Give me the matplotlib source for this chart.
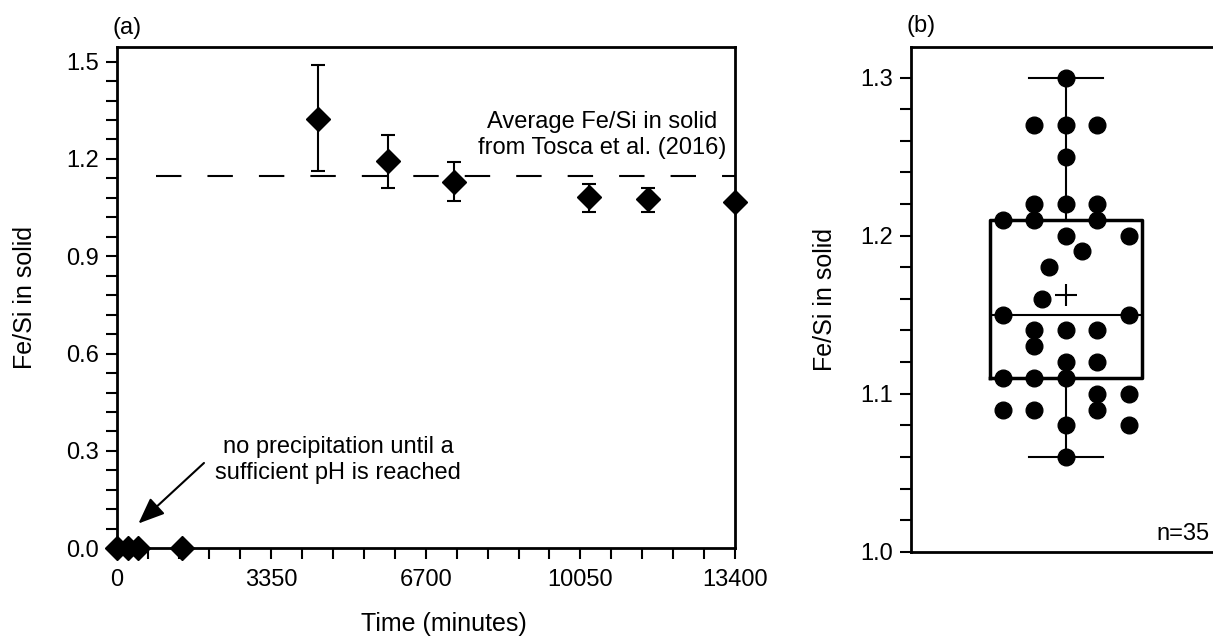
import numpy as np
import matplotlib
matplotlib.use('Agg')
import matplotlib.pyplot as plt
from matplotlib.ticker import MultipleLocator

plt.rcParams['font.family'] = ['Liberation Sans', 'DejaVu Sans']

# (a) Fe/Si i fast stoff mot tid
tid = [0, 250, 470, 1410, 4360, 5890, 7310, 10240, 11520, 13400]
fesi = [0.0, 0.0, 0.0, 0.0, 1.322, 1.195, 1.130, 1.083, 1.075, 1.067]
fesi_lav = [0.0, 0.0, 0.0, 0.0, 1.163, 1.110, 1.071, 1.037, 1.037, 1.067]
fesi_hoy = [0.0, 0.0, 0.0, 0.0, 1.488, 1.275, 1.192, 1.122, 1.111, 1.067]
tosca_snitt = 1.148
tosca_start = 850
xticks_a = [0, 3350, 6700, 10050, 13400]

# (b) fordeling av Fe/Si, n=35
verdier_b = [1.30, 1.27, 1.25, 1.22, 1.21, 1.20, 1.19, 1.18, 1.16, 1.15,
             1.14, 1.13, 1.12, 1.11, 1.10, 1.09, 1.08, 1.06]
antall_b = [1, 3, 1, 3, 3, 2, 1, 1, 1, 2, 3, 1, 2, 3, 2, 3, 2, 1]
# horisontal plassering av punktene (kolonner)
kolonner_b = [[0], [-1, 0, 1], [0], [-1, 0, 1], [-2, -1, 1], [0, 2], [0.5],
              [-0.55], [-0.75], [-2, 2], [-1, 0, 1], [-1], [0, 1], [-2, -1, 0],
              [1, 2], [-2, -1, 1], [0, 2], [0]]

fig = plt.figure(figsize=(12.13, 6.36), dpi=100)

# ---------- (a) ----------
ax = fig.add_axes([0.0962, 0.1379, 0.5097, 0.7877])
t = np.array(tid)
y = np.array(fesi)
yerr = [y - np.array(fesi_lav), np.array(fesi_hoy) - y]
ax.errorbar(t, y, yerr=yerr, fmt='none', ecolor='black', elinewidth=1.5,
            capsize=5, capthick=1.5, zorder=3, clip_on=False)
ax.plot(t, y, 'D', color='black', ms=12.5, zorder=4, clip_on=False)

linje, = ax.plot([tosca_start, xticks_a[-1]], [tosca_snitt, tosca_snitt],
                 color='black', lw=1.5, zorder=2)
linje.set_dashes((12.2, 12.5))

ax.set_xlim(0, 13400)
ax.set_ylim(0, 1.544)
ax.set_xticks(xticks_a)
ax.xaxis.set_minor_locator(MultipleLocator(670))
ax.yaxis.set_major_locator(MultipleLocator(0.3))
ax.yaxis.set_minor_locator(MultipleLocator(0.06))
ax.yaxis.set_major_formatter(matplotlib.ticker.FormatStrFormatter('%.1f'))
ax.tick_params(which='both', direction='out', length=8, width=1.5,
               labelsize=17, top=False, right=False)
ax.tick_params(axis='x', pad=7)
ax.tick_params(axis='y', pad=5)
for s in ax.spines.values():
    s.set_linewidth(2)
ax.set_xlabel('Time (minutes)', fontsize=18)
ax.xaxis.set_label_coords(0.529, -0.128)
ax.set_ylabel('Fe/Si in solid', fontsize=18, labelpad=21)

ax.text(10520, 1.274, 'Average Fe/Si in solid\nfrom Tosca et al. (2016)',
        ha='center', va='center', fontsize=17, linespacing=1.25)
ax.text(4800, 0.272, 'no precipitation until a\nsufficient pH is reached',
        ha='center', va='center', fontsize=17, linespacing=1.25)
ax.annotate('', xy=(472, 0.0765), xytext=(1892, 0.263),
            arrowprops=dict(arrowstyle='-|>,head_length=0.8,head_width=0.33',
                            color='black', lw=1.5, mutation_scale=20,
                            shrinkA=0, shrinkB=0))
fig.text(112 / 1213, 1 - 28 / 636, '(a)', fontsize=17, ha='left', va='center')

# ---------- (b) ----------
bx = fig.add_axes([0.751, 0.1325, 0.249, 0.7941])
alle = np.repeat(verdier_b, antall_b)
bp = bx.boxplot(alle, positions=[0], widths=4.8, whis=(0, 100),
                showmeans=True, showfliers=False, patch_artist=False,
                boxprops=dict(color='black', lw=2.5),
                whiskerprops=dict(color='black', lw=1.5),
                capprops=dict(color='black', lw=1.5),
                medianprops=dict(color='black', lw=1.5),
                meanprops=dict(marker='+', markeredgecolor='black',
                               markersize=16, markeredgewidth=1.5))
for c in bp['caps']:
    xd = c.get_xdata()
    m = np.mean(xd)
    c.set_xdata([m - 1.16, m + 1.16])

px, py = [], []
for v, kol in zip(verdier_b, kolonner_b):
    for k in kol:
        px.append(k)
        py.append(v)
bx.plot(px, py, 'o', color='black', ms=12, zorder=5)

bx.set_xlim(-4.92, 4.667)
bx.set_ylim(1.0, 1.3196)
bx.set_xticks([])
bx.yaxis.set_major_locator(MultipleLocator(0.1))
bx.yaxis.set_minor_locator(MultipleLocator(0.02))
bx.yaxis.set_major_formatter(matplotlib.ticker.FormatStrFormatter('%.1f'))
bx.tick_params(which='both', direction='out', length=8, width=1.5,
               labelsize=17, pad=5)
for s in bx.spines.values():
    s.set_linewidth(2)
bx.spines['right'].set_visible(False)
bx.set_ylabel('Fe/Si in solid', fontsize=18, labelpad=17)
bx.text(4.57, 1.0112, 'n=35', ha='right', va='center', fontsize=17)
fig.text(907 / 1213, 1 - 26 / 636, '(b)', fontsize=17, ha='left', va='center')

fig.savefig('out.png', dpi=100)
